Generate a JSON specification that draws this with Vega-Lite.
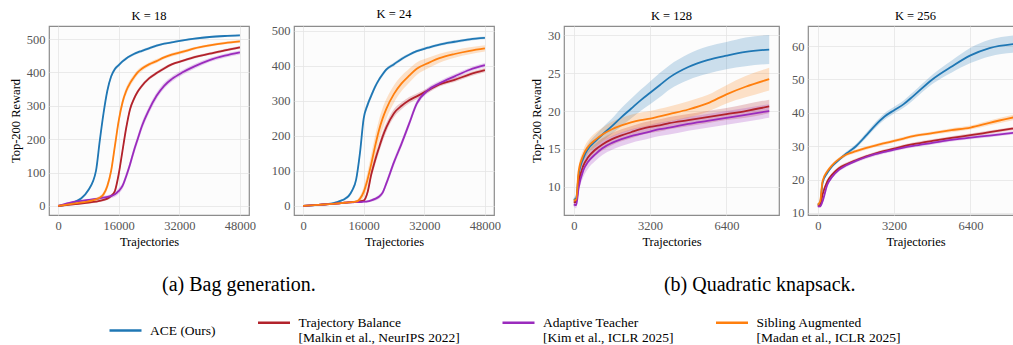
{
  "$schema": "https://vega.github.io/schema/vega-lite/v6.json",
  "padding": {"left": 8, "top": 7, "right": 0, "bottom": 0},
  "background": "white",
  "config": {
    "font": "Liberation Serif",
    "view": {"fill": "#fcfcfc", "stroke": "#8c8c8c", "strokeWidth": 1.2},
    "axis": {"grid": true, "gridColor": "#e4e4e4", "gridWidth": 0.8, "domain": false, "ticks": false, "labelOverlap": false, "labelFont": "Liberation Serif", "labelFontSize": 12.5, "labelColor": "#555555", "labelPadding": 4, "titleFont": "Liberation Serif", "titleFontSize": 12.5, "titleFontWeight": "normal", "titleColor": "#000000", "titlePadding": 4},
    "title": {"font": "Liberation Serif", "fontSize": 12.5, "fontWeight": "normal", "offset": 4, "color": "#000000"},
    "legend": {"symbolOpacity": 1, "symbolType": "stroke", "symbolStrokeWidth": 2.5, "symbolSize": 1024, "labelFont": "Liberation Serif", "labelFontSize": 13.5, "labelColor": "#000000", "labelLimit": 400, "columnPadding": 36.5, "labelOffset": 7}
  },
  "datasets": {
    "k18": [
      {"s":"ACE","x":0,"y":0,"lo":-1,"hi":1},{"s":"ACE","x":4000,"y":10,"lo":7,"hi":13},{"s":"ACE","x":8000,"y":48,"lo":43,"hi":53},{"s":"ACE","x":10000,"y":105,"lo":99,"hi":111},{"s":"ACE","x":11000,"y":195,"lo":187,"hi":203},{"s":"ACE","x":12000,"y":278,"lo":270,"hi":286},{"s":"ACE","x":13000,"y":345,"lo":337,"hi":353},{"s":"ACE","x":14000,"y":388,"lo":381,"hi":395},{"s":"ACE","x":15000,"y":410,"lo":404,"hi":416},{"s":"ACE","x":16000,"y":422,"lo":417,"hi":427},{"s":"ACE","x":17000,"y":433,"lo":428,"hi":438},{"s":"ACE","x":18000,"y":442,"lo":438,"hi":446},{"s":"ACE","x":19000,"y":449,"lo":445,"hi":453},{"s":"ACE","x":20000,"y":455,"lo":451,"hi":459},{"s":"ACE","x":21000,"y":460,"lo":456,"hi":464},{"s":"ACE","x":22000,"y":464,"lo":460,"hi":468},{"s":"ACE","x":24000,"y":472,"lo":468,"hi":476},{"s":"ACE","x":26000,"y":480,"lo":476,"hi":484},{"s":"ACE","x":28000,"y":486,"lo":483,"hi":489},{"s":"ACE","x":30000,"y":490,"lo":487,"hi":493},{"s":"ACE","x":33000,"y":496,"lo":493,"hi":499},{"s":"ACE","x":36000,"y":501,"lo":498,"hi":504},{"s":"ACE","x":40000,"y":506,"lo":503,"hi":509},{"s":"ACE","x":44000,"y":509,"lo":506,"hi":512},{"s":"ACE","x":48000,"y":511,"lo":508,"hi":514},
      {"s":"TB","x":0,"y":0,"lo":-1,"hi":1},{"s":"TB","x":4000,"y":5,"lo":3,"hi":7},{"s":"TB","x":8000,"y":10,"lo":7,"hi":13},{"s":"TB","x":10000,"y":13,"lo":10,"hi":16},{"s":"TB","x":11000,"y":15,"lo":12,"hi":18},{"s":"TB","x":12000,"y":18,"lo":14,"hi":22},{"s":"TB","x":13000,"y":22,"lo":18,"hi":26},{"s":"TB","x":14000,"y":30,"lo":25,"hi":35},{"s":"TB","x":15000,"y":45,"lo":39,"hi":51},{"s":"TB","x":16000,"y":95,"lo":87,"hi":103},{"s":"TB","x":17000,"y":165,"lo":156,"hi":174},{"s":"TB","x":18000,"y":235,"lo":226,"hi":244},{"s":"TB","x":19000,"y":290,"lo":282,"hi":298},{"s":"TB","x":20000,"y":320,"lo":313,"hi":327},{"s":"TB","x":21000,"y":342,"lo":336,"hi":348},{"s":"TB","x":22000,"y":358,"lo":352,"hi":364},{"s":"TB","x":24000,"y":382,"lo":377,"hi":387},{"s":"TB","x":26000,"y":398,"lo":393,"hi":403},{"s":"TB","x":28000,"y":412,"lo":407,"hi":417},{"s":"TB","x":30000,"y":424,"lo":420,"hi":428},{"s":"TB","x":33000,"y":435,"lo":431,"hi":439},{"s":"TB","x":36000,"y":446,"lo":442,"hi":450},{"s":"TB","x":40000,"y":456,"lo":452,"hi":460},{"s":"TB","x":44000,"y":466,"lo":462,"hi":470},{"s":"TB","x":48000,"y":475,"lo":471,"hi":479},
      {"s":"AT","x":0,"y":0,"lo":-1,"hi":1},{"s":"AT","x":4000,"y":12,"lo":9,"hi":15},{"s":"AT","x":8000,"y":18,"lo":14,"hi":22},{"s":"AT","x":10000,"y":21,"lo":17,"hi":25},{"s":"AT","x":11000,"y":23,"lo":19,"hi":27},{"s":"AT","x":12000,"y":25,"lo":20,"hi":30},{"s":"AT","x":13000,"y":27,"lo":22,"hi":32},{"s":"AT","x":14000,"y":30,"lo":24,"hi":36},{"s":"AT","x":15000,"y":35,"lo":28,"hi":42},{"s":"AT","x":16000,"y":45,"lo":37,"hi":53},{"s":"AT","x":17000,"y":60,"lo":51,"hi":69},{"s":"AT","x":18000,"y":90,"lo":80,"hi":100},{"s":"AT","x":19000,"y":125,"lo":114,"hi":136},{"s":"AT","x":20000,"y":165,"lo":153,"hi":177},{"s":"AT","x":21000,"y":200,"lo":188,"hi":212},{"s":"AT","x":22000,"y":235,"lo":223,"hi":247},{"s":"AT","x":24000,"y":288,"lo":277,"hi":299},{"s":"AT","x":26000,"y":330,"lo":320,"hi":340},{"s":"AT","x":28000,"y":360,"lo":351,"hi":369},{"s":"AT","x":30000,"y":380,"lo":372,"hi":388},{"s":"AT","x":33000,"y":401,"lo":394,"hi":408},{"s":"AT","x":36000,"y":418,"lo":411,"hi":425},{"s":"AT","x":40000,"y":437,"lo":431,"hi":443},{"s":"AT","x":44000,"y":450,"lo":444,"hi":456},{"s":"AT","x":48000,"y":460,"lo":454,"hi":466},
      {"s":"SA","x":0,"y":0,"lo":-1,"hi":1},{"s":"SA","x":4000,"y":7,"lo":4,"hi":10},{"s":"SA","x":8000,"y":14,"lo":10,"hi":18},{"s":"SA","x":10000,"y":20,"lo":15,"hi":25},{"s":"SA","x":11000,"y":25,"lo":19,"hi":31},{"s":"SA","x":12000,"y":35,"lo":27,"hi":43},{"s":"SA","x":13000,"y":60,"lo":50,"hi":70},{"s":"SA","x":14000,"y":105,"lo":93,"hi":117},{"s":"SA","x":15000,"y":180,"lo":168,"hi":192},{"s":"SA","x":16000,"y":255,"lo":243,"hi":267},{"s":"SA","x":17000,"y":310,"lo":298,"hi":322},{"s":"SA","x":18000,"y":345,"lo":334,"hi":356},{"s":"SA","x":19000,"y":368,"lo":358,"hi":378},{"s":"SA","x":20000,"y":385,"lo":376,"hi":394},{"s":"SA","x":21000,"y":400,"lo":392,"hi":408},{"s":"SA","x":22000,"y":410,"lo":403,"hi":417},{"s":"SA","x":24000,"y":424,"lo":418,"hi":430},{"s":"SA","x":26000,"y":434,"lo":428,"hi":440},{"s":"SA","x":28000,"y":445,"lo":440,"hi":450},{"s":"SA","x":30000,"y":453,"lo":448,"hi":458},{"s":"SA","x":33000,"y":462,"lo":457,"hi":467},{"s":"SA","x":36000,"y":472,"lo":468,"hi":476},{"s":"SA","x":40000,"y":481,"lo":477,"hi":485},{"s":"SA","x":44000,"y":488,"lo":484,"hi":492},{"s":"SA","x":48000,"y":493,"lo":489,"hi":497}
    ],
    "k24": [
      {"s":"ACE","x":0,"y":0,"lo":-1,"hi":1},{"s":"ACE","x":4000,"y":3,"lo":1,"hi":5},{"s":"ACE","x":8000,"y":8,"lo":5,"hi":11},{"s":"ACE","x":10000,"y":15,"lo":12,"hi":18},{"s":"ACE","x":11000,"y":20,"lo":16,"hi":24},{"s":"ACE","x":12000,"y":28,"lo":23,"hi":33},{"s":"ACE","x":13000,"y":45,"lo":39,"hi":51},{"s":"ACE","x":14000,"y":75,"lo":67,"hi":83},{"s":"ACE","x":15000,"y":150,"lo":140,"hi":160},{"s":"ACE","x":16000,"y":250,"lo":240,"hi":260},{"s":"ACE","x":17000,"y":288,"lo":279,"hi":297},{"s":"ACE","x":18000,"y":315,"lo":307,"hi":323},{"s":"ACE","x":19000,"y":340,"lo":333,"hi":347},{"s":"ACE","x":20000,"y":360,"lo":354,"hi":366},{"s":"ACE","x":21000,"y":376,"lo":370,"hi":382},{"s":"ACE","x":22000,"y":390,"lo":385,"hi":395},{"s":"ACE","x":24000,"y":405,"lo":400,"hi":410},{"s":"ACE","x":26000,"y":420,"lo":415,"hi":425},{"s":"ACE","x":28000,"y":432,"lo":428,"hi":436},{"s":"ACE","x":30000,"y":442,"lo":438,"hi":446},{"s":"ACE","x":33000,"y":452,"lo":448,"hi":456},{"s":"ACE","x":36000,"y":461,"lo":457,"hi":465},{"s":"ACE","x":40000,"y":469,"lo":465,"hi":473},{"s":"ACE","x":44000,"y":476,"lo":472,"hi":480},{"s":"ACE","x":48000,"y":480,"lo":476,"hi":484},
      {"s":"TB","x":0,"y":0,"lo":-1,"hi":1},{"s":"TB","x":4000,"y":3,"lo":1,"hi":5},{"s":"TB","x":8000,"y":6,"lo":4,"hi":8},{"s":"TB","x":10000,"y":8,"lo":6,"hi":10},{"s":"TB","x":11000,"y":9,"lo":7,"hi":11},{"s":"TB","x":12000,"y":10,"lo":7,"hi":13},{"s":"TB","x":13000,"y":11,"lo":8,"hi":14},{"s":"TB","x":14000,"y":12,"lo":9,"hi":15},{"s":"TB","x":15000,"y":13,"lo":10,"hi":16},{"s":"TB","x":16000,"y":15,"lo":11,"hi":19},{"s":"TB","x":17000,"y":38,"lo":30,"hi":46},{"s":"TB","x":18000,"y":90,"lo":78,"hi":102},{"s":"TB","x":19000,"y":130,"lo":116,"hi":144},{"s":"TB","x":20000,"y":165,"lo":151,"hi":179},{"s":"TB","x":21000,"y":198,"lo":184,"hi":212},{"s":"TB","x":22000,"y":225,"lo":212,"hi":238},{"s":"TB","x":24000,"y":265,"lo":253,"hi":277},{"s":"TB","x":26000,"y":286,"lo":276,"hi":296},{"s":"TB","x":28000,"y":302,"lo":293,"hi":311},{"s":"TB","x":30000,"y":313,"lo":305,"hi":321},{"s":"TB","x":33000,"y":330,"lo":323,"hi":337},{"s":"TB","x":36000,"y":347,"lo":341,"hi":353},{"s":"TB","x":40000,"y":360,"lo":354,"hi":366},{"s":"TB","x":44000,"y":376,"lo":370,"hi":382},{"s":"TB","x":48000,"y":388,"lo":382,"hi":394},
      {"s":"AT","x":0,"y":0,"lo":-1,"hi":1},{"s":"AT","x":4000,"y":3,"lo":1,"hi":5},{"s":"AT","x":8000,"y":6,"lo":4,"hi":8},{"s":"AT","x":10000,"y":8,"lo":6,"hi":10},{"s":"AT","x":11000,"y":9,"lo":7,"hi":11},{"s":"AT","x":12000,"y":10,"lo":8,"hi":12},{"s":"AT","x":13000,"y":10,"lo":8,"hi":12},{"s":"AT","x":14000,"y":11,"lo":9,"hi":13},{"s":"AT","x":15000,"y":11,"lo":8,"hi":14},{"s":"AT","x":16000,"y":12,"lo":9,"hi":15},{"s":"AT","x":17000,"y":13,"lo":10,"hi":16},{"s":"AT","x":18000,"y":16,"lo":12,"hi":20},{"s":"AT","x":19000,"y":20,"lo":15,"hi":25},{"s":"AT","x":20000,"y":26,"lo":20,"hi":32},{"s":"AT","x":21000,"y":38,"lo":31,"hi":45},{"s":"AT","x":22000,"y":65,"lo":56,"hi":74},{"s":"AT","x":24000,"y":125,"lo":115,"hi":135},{"s":"AT","x":26000,"y":178,"lo":168,"hi":188},{"s":"AT","x":28000,"y":235,"lo":225,"hi":245},{"s":"AT","x":30000,"y":292,"lo":283,"hi":301},{"s":"AT","x":33000,"y":331,"lo":323,"hi":339},{"s":"AT","x":36000,"y":350,"lo":343,"hi":357},{"s":"AT","x":40000,"y":370,"lo":363,"hi":377},{"s":"AT","x":44000,"y":389,"lo":383,"hi":395},{"s":"AT","x":48000,"y":402,"lo":396,"hi":408},
      {"s":"SA","x":0,"y":0,"lo":-1,"hi":1},{"s":"SA","x":4000,"y":3,"lo":1,"hi":5},{"s":"SA","x":8000,"y":6,"lo":4,"hi":8},{"s":"SA","x":10000,"y":8,"lo":6,"hi":10},{"s":"SA","x":11000,"y":9,"lo":6,"hi":12},{"s":"SA","x":12000,"y":10,"lo":7,"hi":13},{"s":"SA","x":13000,"y":11,"lo":8,"hi":14},{"s":"SA","x":14000,"y":12,"lo":8,"hi":16},{"s":"SA","x":15000,"y":20,"lo":12,"hi":28},{"s":"SA","x":16000,"y":40,"lo":25,"hi":55},{"s":"SA","x":17000,"y":75,"lo":53,"hi":97},{"s":"SA","x":18000,"y":120,"lo":92,"hi":148},{"s":"SA","x":19000,"y":170,"lo":140,"hi":200},{"s":"SA","x":20000,"y":215,"lo":185,"hi":245},{"s":"SA","x":21000,"y":250,"lo":220,"hi":280},{"s":"SA","x":22000,"y":278,"lo":250,"hi":306},{"s":"SA","x":24000,"y":320,"lo":295,"hi":345},{"s":"SA","x":26000,"y":350,"lo":328,"hi":372},{"s":"SA","x":28000,"y":372,"lo":352,"hi":392},{"s":"SA","x":30000,"y":392,"lo":374,"hi":410},{"s":"SA","x":33000,"y":408,"lo":393,"hi":423},{"s":"SA","x":36000,"y":422,"lo":409,"hi":435},{"s":"SA","x":40000,"y":434,"lo":423,"hi":445},{"s":"SA","x":44000,"y":443,"lo":433,"hi":453},{"s":"SA","x":48000,"y":450,"lo":441,"hi":459}
    ],
    "k128": [
      {"s":"ACE","x":0,"y":8.3,"lo":8.0,"hi":8.6},{"s":"ACE","x":100,"y":8.5,"lo":8.1,"hi":8.9},{"s":"ACE","x":200,"y":11.5,"lo":11.0,"hi":12.0},{"s":"ACE","x":400,"y":13.8,"lo":13.2,"hi":14.4},{"s":"ACE","x":600,"y":15.0,"lo":14.3,"hi":15.7},{"s":"ACE","x":900,"y":16.0,"lo":15.2,"hi":16.8},{"s":"ACE","x":1200,"y":16.9,"lo":16.0,"hi":17.8},{"s":"ACE","x":1600,"y":18.0,"lo":17.0,"hi":19.0},{"s":"ACE","x":2000,"y":19.2,"lo":18.0,"hi":20.4},{"s":"ACE","x":2400,"y":20.3,"lo":19.0,"hi":21.6},{"s":"ACE","x":2800,"y":21.4,"lo":20.0,"hi":22.8},{"s":"ACE","x":3200,"y":22.4,"lo":20.9,"hi":23.9},{"s":"ACE","x":3600,"y":23.4,"lo":21.8,"hi":25.0},{"s":"ACE","x":4000,"y":24.4,"lo":22.8,"hi":26.0},{"s":"ACE","x":4800,"y":25.8,"lo":24.1,"hi":27.5},{"s":"ACE","x":5600,"y":26.7,"lo":24.9,"hi":28.5},{"s":"ACE","x":6400,"y":27.3,"lo":25.5,"hi":29.1},{"s":"ACE","x":7200,"y":27.8,"lo":25.9,"hi":29.7},{"s":"ACE","x":8192,"y":28.1,"lo":26.2,"hi":30.0},
      {"s":"TB","x":0,"y":8.0,"lo":7.7,"hi":8.3},{"s":"TB","x":100,"y":8.0,"lo":7.6,"hi":8.4},{"s":"TB","x":200,"y":10.5,"lo":9.9,"hi":11.1},{"s":"TB","x":400,"y":12.8,"lo":12.0,"hi":13.6},{"s":"TB","x":600,"y":13.9,"lo":13.1,"hi":14.7},{"s":"TB","x":900,"y":14.9,"lo":14.1,"hi":15.7},{"s":"TB","x":1200,"y":15.6,"lo":14.8,"hi":16.4},{"s":"TB","x":1600,"y":16.3,"lo":15.5,"hi":17.1},{"s":"TB","x":2000,"y":16.8,"lo":16.0,"hi":17.6},{"s":"TB","x":2400,"y":17.2,"lo":16.4,"hi":18.0},{"s":"TB","x":2800,"y":17.6,"lo":16.8,"hi":18.4},{"s":"TB","x":3200,"y":17.9,"lo":17.1,"hi":18.7},{"s":"TB","x":3600,"y":18.1,"lo":17.3,"hi":18.9},{"s":"TB","x":4000,"y":18.4,"lo":17.6,"hi":19.2},{"s":"TB","x":4800,"y":18.8,"lo":18.0,"hi":19.6},{"s":"TB","x":5600,"y":19.2,"lo":18.4,"hi":20.0},{"s":"TB","x":6400,"y":19.6,"lo":18.8,"hi":20.4},{"s":"TB","x":7200,"y":20.0,"lo":19.1,"hi":20.9},{"s":"TB","x":8192,"y":20.6,"lo":19.7,"hi":21.5},
      {"s":"AT","x":0,"y":7.7,"lo":7.4,"hi":8.0},{"s":"AT","x":100,"y":7.6,"lo":7.2,"hi":8.0},{"s":"AT","x":200,"y":9.8,"lo":9.2,"hi":10.4},{"s":"AT","x":400,"y":12.2,"lo":11.3,"hi":13.1},{"s":"AT","x":600,"y":13.3,"lo":12.4,"hi":14.2},{"s":"AT","x":900,"y":14.3,"lo":13.4,"hi":15.2},{"s":"AT","x":1200,"y":15.1,"lo":14.2,"hi":16.0},{"s":"AT","x":1600,"y":15.8,"lo":14.9,"hi":16.7},{"s":"AT","x":2000,"y":16.3,"lo":15.4,"hi":17.2},{"s":"AT","x":2400,"y":16.7,"lo":15.8,"hi":17.6},{"s":"AT","x":2800,"y":17.0,"lo":16.1,"hi":17.9},{"s":"AT","x":3200,"y":17.3,"lo":16.4,"hi":18.2},{"s":"AT","x":3600,"y":17.6,"lo":16.7,"hi":18.5},{"s":"AT","x":4000,"y":17.8,"lo":16.9,"hi":18.7},{"s":"AT","x":4800,"y":18.3,"lo":17.4,"hi":19.2},{"s":"AT","x":5600,"y":18.7,"lo":17.8,"hi":19.6},{"s":"AT","x":6400,"y":19.1,"lo":18.2,"hi":20.0},{"s":"AT","x":7200,"y":19.5,"lo":18.6,"hi":20.4},{"s":"AT","x":8192,"y":20.0,"lo":19.1,"hi":20.9},
      {"s":"SA","x":0,"y":8.2,"lo":7.9,"hi":8.5},{"s":"SA","x":100,"y":8.3,"lo":7.9,"hi":8.7},{"s":"SA","x":200,"y":12.0,"lo":11.4,"hi":12.6},{"s":"SA","x":400,"y":14.2,"lo":13.5,"hi":14.9},{"s":"SA","x":600,"y":15.3,"lo":14.5,"hi":16.1},{"s":"SA","x":900,"y":16.2,"lo":15.3,"hi":17.1},{"s":"SA","x":1200,"y":16.9,"lo":16.0,"hi":17.8},{"s":"SA","x":1600,"y":17.6,"lo":16.6,"hi":18.6},{"s":"SA","x":2000,"y":18.1,"lo":17.1,"hi":19.1},{"s":"SA","x":2400,"y":18.5,"lo":17.5,"hi":19.5},{"s":"SA","x":2800,"y":18.8,"lo":17.8,"hi":19.8},{"s":"SA","x":3200,"y":19.0,"lo":18.0,"hi":20.0},{"s":"SA","x":3600,"y":19.3,"lo":18.3,"hi":20.3},{"s":"SA","x":4000,"y":19.6,"lo":18.6,"hi":20.6},{"s":"SA","x":4800,"y":20.2,"lo":19.1,"hi":21.3},{"s":"SA","x":5600,"y":21.0,"lo":19.9,"hi":22.1},{"s":"SA","x":6400,"y":22.2,"lo":21.0,"hi":23.4},{"s":"SA","x":7200,"y":23.2,"lo":21.8,"hi":24.6},{"s":"SA","x":8192,"y":24.2,"lo":22.7,"hi":25.7}
    ],
    "k256": [
      {"s":"ACE","x":0,"y":12.5,"lo":12.2,"hi":12.8},{"s":"ACE","x":100,"y":13.0,"lo":12.6,"hi":13.4},{"s":"ACE","x":200,"y":19.0,"lo":18.5,"hi":19.5},{"s":"ACE","x":400,"y":22.0,"lo":21.5,"hi":22.5},{"s":"ACE","x":600,"y":24.0,"lo":23.5,"hi":24.5},{"s":"ACE","x":900,"y":26.0,"lo":25.5,"hi":26.5},{"s":"ACE","x":1200,"y":27.8,"lo":27.2,"hi":28.4},{"s":"ACE","x":1600,"y":30.0,"lo":29.3,"hi":30.7},{"s":"ACE","x":2000,"y":33.0,"lo":32.2,"hi":33.8},{"s":"ACE","x":2400,"y":36.2,"lo":35.3,"hi":37.1},{"s":"ACE","x":2800,"y":38.9,"lo":37.9,"hi":39.9},{"s":"ACE","x":3200,"y":40.8,"lo":39.8,"hi":41.8},{"s":"ACE","x":3600,"y":42.6,"lo":41.5,"hi":43.7},{"s":"ACE","x":4000,"y":45.0,"lo":43.8,"hi":46.2},{"s":"ACE","x":4800,"y":50.0,"lo":48.6,"hi":51.4},{"s":"ACE","x":5600,"y":53.8,"lo":52.0,"hi":55.6},{"s":"ACE","x":6400,"y":57.2,"lo":54.9,"hi":59.5},{"s":"ACE","x":7200,"y":59.4,"lo":56.9,"hi":61.9},{"s":"ACE","x":8192,"y":60.6,"lo":58.0,"hi":63.2},
      {"s":"TB","x":0,"y":12.2,"lo":11.9,"hi":12.5},{"s":"TB","x":100,"y":12.3,"lo":11.9,"hi":12.7},{"s":"TB","x":200,"y":15.5,"lo":15.0,"hi":16.0},{"s":"TB","x":400,"y":19.5,"lo":19.0,"hi":20.0},{"s":"TB","x":600,"y":21.5,"lo":21.0,"hi":22.0},{"s":"TB","x":900,"y":23.5,"lo":23.0,"hi":24.0},{"s":"TB","x":1200,"y":24.6,"lo":24.1,"hi":25.1},{"s":"TB","x":1600,"y":25.8,"lo":25.3,"hi":26.3},{"s":"TB","x":2000,"y":26.9,"lo":26.4,"hi":27.4},{"s":"TB","x":2400,"y":27.8,"lo":27.3,"hi":28.3},{"s":"TB","x":2800,"y":28.6,"lo":28.1,"hi":29.1},{"s":"TB","x":3200,"y":29.3,"lo":28.8,"hi":29.8},{"s":"TB","x":3600,"y":30.0,"lo":29.5,"hi":30.5},{"s":"TB","x":4000,"y":30.6,"lo":30.1,"hi":31.1},{"s":"TB","x":4800,"y":31.6,"lo":31.1,"hi":32.1},{"s":"TB","x":5600,"y":32.5,"lo":32.0,"hi":33.0},{"s":"TB","x":6400,"y":33.3,"lo":32.8,"hi":33.8},{"s":"TB","x":7200,"y":34.2,"lo":33.7,"hi":34.7},{"s":"TB","x":8192,"y":35.3,"lo":34.8,"hi":35.8},
      {"s":"AT","x":0,"y":12.0,"lo":11.7,"hi":12.3},{"s":"AT","x":100,"y":12.0,"lo":11.6,"hi":12.4},{"s":"AT","x":200,"y":13.5,"lo":13.0,"hi":14.0},{"s":"AT","x":400,"y":18.5,"lo":18.0,"hi":19.0},{"s":"AT","x":600,"y":20.8,"lo":20.3,"hi":21.3},{"s":"AT","x":900,"y":23.0,"lo":22.5,"hi":23.5},{"s":"AT","x":1200,"y":24.3,"lo":23.8,"hi":24.8},{"s":"AT","x":1600,"y":25.6,"lo":25.1,"hi":26.1},{"s":"AT","x":2000,"y":26.7,"lo":26.2,"hi":27.2},{"s":"AT","x":2400,"y":27.6,"lo":27.1,"hi":28.1},{"s":"AT","x":2800,"y":28.3,"lo":27.8,"hi":28.8},{"s":"AT","x":3200,"y":29.0,"lo":28.5,"hi":29.5},{"s":"AT","x":3600,"y":29.6,"lo":29.1,"hi":30.1},{"s":"AT","x":4000,"y":30.1,"lo":29.6,"hi":30.6},{"s":"AT","x":4800,"y":31.0,"lo":30.5,"hi":31.5},{"s":"AT","x":5600,"y":31.9,"lo":31.4,"hi":32.4},{"s":"AT","x":6400,"y":32.6,"lo":32.1,"hi":33.1},{"s":"AT","x":7200,"y":33.2,"lo":32.7,"hi":33.7},{"s":"AT","x":8192,"y":34.0,"lo":33.5,"hi":34.5},
      {"s":"SA","x":0,"y":12.5,"lo":12.2,"hi":12.8},{"s":"SA","x":100,"y":13.5,"lo":13.1,"hi":13.9},{"s":"SA","x":200,"y":19.5,"lo":19.0,"hi":20.0},{"s":"SA","x":400,"y":22.5,"lo":22.0,"hi":23.0},{"s":"SA","x":600,"y":24.3,"lo":23.8,"hi":24.8},{"s":"SA","x":900,"y":26.2,"lo":25.7,"hi":26.7},{"s":"SA","x":1200,"y":27.5,"lo":27.0,"hi":28.0},{"s":"SA","x":1600,"y":28.5,"lo":28.0,"hi":29.0},{"s":"SA","x":2000,"y":29.4,"lo":28.9,"hi":29.9},{"s":"SA","x":2400,"y":30.2,"lo":29.7,"hi":30.7},{"s":"SA","x":2800,"y":30.9,"lo":30.4,"hi":31.4},{"s":"SA","x":3200,"y":31.6,"lo":31.1,"hi":32.1},{"s":"SA","x":3600,"y":32.3,"lo":31.8,"hi":32.8},{"s":"SA","x":4000,"y":33.0,"lo":32.5,"hi":33.5},{"s":"SA","x":4800,"y":33.9,"lo":33.4,"hi":34.4},{"s":"SA","x":5600,"y":34.8,"lo":34.2,"hi":35.4},{"s":"SA","x":6400,"y":35.6,"lo":35.0,"hi":36.2},{"s":"SA","x":7200,"y":37.0,"lo":36.3,"hi":37.7},{"s":"SA","x":8192,"y":38.6,"lo":37.8,"hi":39.4}
    ]
  },
  "hconcat": [
    {
      "title": {"text": "(a) Bag generation.", "orient": "bottom", "fontSize": 20, "offset": 26, "dx": -16, "anchor": "middle"},
      "bounds": "flush",
      "spacing": 45,
      "hconcat": [
        {
          "width": 200, "height": 189, "title": "K = 18",
          "data": {"name": "k18"},
          "encoding": {
            "x": {"field": "x", "type": "quantitative", "scale": {"domain": [-2400, 50400], "nice": false, "zero": false}, "axis": {"values": [0, 16000, 32000, 48000], "format": "d", "title": "Trajectories"}},
            "color": {"field": "s", "type": "nominal", "scale": {"domain": ["ACE", "TB", "AT", "SA"], "range": ["#1f77b4", "#b2222b", "#9a2bbd", "#ff7f0e"]}, "legend": {"orient": "none", "legendX": 59, "legendY": 279, "direction": "horizontal", "columns": 4, "title": null, "labelExpr": "datum.label == 'TB' ? ['Trajectory Balance', '[Malkin et al., NeurIPS 2022]'] : datum.label == 'AT' ? ['Adaptive Teacher', '[Kim et al., ICLR 2025]'] : datum.label == 'SA' ? ['Sibling Augmented', '[Madan et al., ICLR 2025]'] : 'ACE (Ours)'"}}
          },
          "layer": [
            {"mark": {"type": "area", "opacity": 0.22, "interpolate": "monotone"}, "encoding": {"y": {"field": "lo", "type": "quantitative", "scale": {"domain": [-27, 539], "nice": false, "zero": false}, "axis": {"values": [0, 100, 200, 300, 400, 500], "title": "Top-200 Reward"}}, "y2": {"field": "hi"}}},
            {"mark": {"type": "line", "strokeWidth": 1.8, "interpolate": "monotone"}, "encoding": {"y": {"field": "y", "type": "quantitative", "axis": {"values": [0, 100, 200, 300, 400, 500], "title": "Top-200 Reward"}}}}
          ]
        },
        {
          "width": 200, "height": 189, "title": "K = 24",
          "data": {"name": "k24"},
          "encoding": {
            "x": {"field": "x", "type": "quantitative", "scale": {"domain": [-2400, 50400], "nice": false, "zero": false}, "axis": {"values": [0, 16000, 32000, 48000], "format": "d", "title": "Trajectories"}},
            "color": {"field": "s", "type": "nominal", "scale": {"domain": ["ACE", "TB", "AT", "SA"], "range": ["#1f77b4", "#b2222b", "#9a2bbd", "#ff7f0e"]}, "legend": {"orient": "none", "legendX": 59, "legendY": 279, "direction": "horizontal", "columns": 4, "title": null, "labelExpr": "datum.label == 'TB' ? ['Trajectory Balance', '[Malkin et al., NeurIPS 2022]'] : datum.label == 'AT' ? ['Adaptive Teacher', '[Kim et al., ICLR 2025]'] : datum.label == 'SA' ? ['Sibling Augmented', '[Madan et al., ICLR 2025]'] : 'ACE (Ours)'"}}
          },
          "layer": [
            {"mark": {"type": "area", "opacity": 0.22, "interpolate": "monotone"}, "encoding": {"y": {"field": "lo", "type": "quantitative", "scale": {"domain": [-26, 514], "nice": false, "zero": false}, "axis": {"values": [0, 100, 200, 300, 400, 500], "title": null}}, "y2": {"field": "hi"}}},
            {"mark": {"type": "line", "strokeWidth": 1.8, "interpolate": "monotone"}, "encoding": {"y": {"field": "y", "type": "quantitative", "axis": {"values": [0, 100, 200, 300, 400, 500], "title": null}}}}
          ]
        }
      ]
    },
    {
      "title": {"text": "(b) Quadratic knapsack.", "orient": "bottom", "fontSize": 20, "offset": 26, "dx": -17, "anchor": "middle"},
      "bounds": "flush",
      "spacing": 29,
      "hconcat": [
        {
          "width": 215, "height": 189, "title": "K = 128",
          "data": {"name": "k128"},
          "encoding": {
            "x": {"field": "x", "type": "quantitative", "scale": {"domain": [-410, 8602], "nice": false, "zero": false}, "axis": {"values": [0, 3200, 6400], "format": "d", "title": "Trajectories"}},
            "color": {"field": "s", "type": "nominal", "scale": {"domain": ["ACE", "TB", "AT", "SA"], "range": ["#1f77b4", "#b2222b", "#9a2bbd", "#ff7f0e"]}, "legend": {"orient": "none", "legendX": 59, "legendY": 279, "direction": "horizontal", "columns": 4, "title": null, "labelExpr": "datum.label == 'TB' ? ['Trajectory Balance', '[Malkin et al., NeurIPS 2022]'] : datum.label == 'AT' ? ['Adaptive Teacher', '[Kim et al., ICLR 2025]'] : datum.label == 'SA' ? ['Sibling Augmented', '[Madan et al., ICLR 2025]'] : 'ACE (Ours)'"}}
          },
          "layer": [
            {"mark": {"type": "area", "opacity": 0.22, "interpolate": "monotone"}, "encoding": {"y": {"field": "lo", "type": "quantitative", "scale": {"domain": [6.3, 31.2], "nice": false, "zero": false}, "axis": {"values": [10, 15, 20, 25, 30], "title": "Top-200 Reward"}}, "y2": {"field": "hi"}}},
            {"mark": {"type": "line", "strokeWidth": 1.8, "interpolate": "monotone"}, "encoding": {"y": {"field": "y", "type": "quantitative", "axis": {"values": [10, 15, 20, 25, 30], "title": "Top-200 Reward"}}}}
          ]
        },
        {
          "width": 215, "height": 189, "title": "K = 256",
          "data": {"name": "k256"},
          "encoding": {
            "x": {"field": "x", "type": "quantitative", "scale": {"domain": [-410, 8602], "nice": false, "zero": false}, "axis": {"values": [0, 3200, 6400], "format": "d", "title": "Trajectories"}},
            "color": {"field": "s", "type": "nominal", "scale": {"domain": ["ACE", "TB", "AT", "SA"], "range": ["#1f77b4", "#b2222b", "#9a2bbd", "#ff7f0e"]}, "legend": {"orient": "none", "legendX": 59, "legendY": 279, "direction": "horizontal", "columns": 4, "title": null, "labelExpr": "datum.label == 'TB' ? ['Trajectory Balance', '[Malkin et al., NeurIPS 2022]'] : datum.label == 'AT' ? ['Adaptive Teacher', '[Kim et al., ICLR 2025]'] : datum.label == 'SA' ? ['Sibling Augmented', '[Madan et al., ICLR 2025]'] : 'ACE (Ours)'"}}
          },
          "layer": [
            {"mark": {"type": "area", "opacity": 0.22, "interpolate": "monotone"}, "encoding": {"y": {"field": "lo", "type": "quantitative", "scale": {"domain": [9.4, 66], "nice": false, "zero": false}, "axis": {"values": [10, 20, 30, 40, 50, 60], "title": null}}, "y2": {"field": "hi"}}},
            {"mark": {"type": "line", "strokeWidth": 1.8, "interpolate": "monotone"}, "encoding": {"y": {"field": "y", "type": "quantitative", "axis": {"values": [10, 20, 30, 40, 50, 60], "title": null}}}}
          ]
        }
      ]
    }
  ],
  "spacing": 27
}
